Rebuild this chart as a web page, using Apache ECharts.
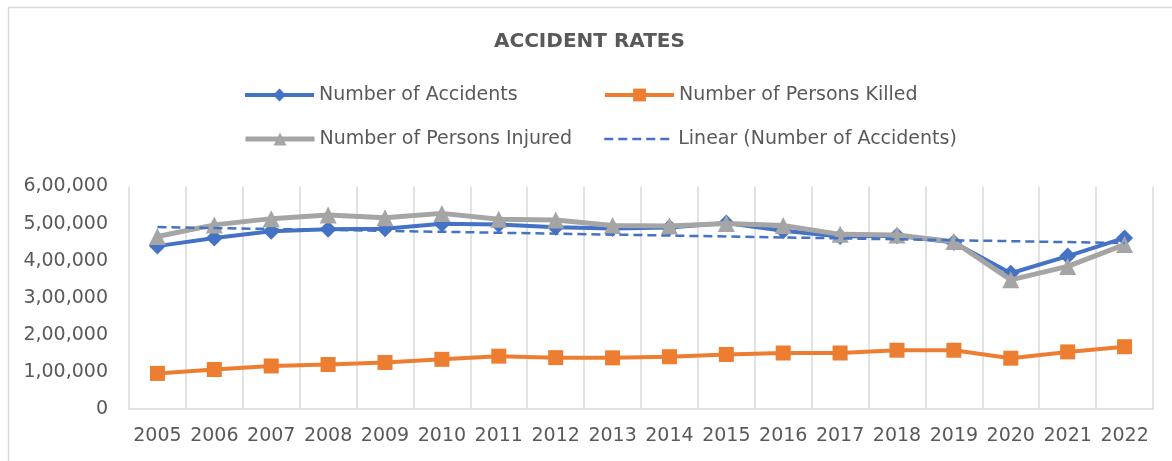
<!DOCTYPE html>
<html>
<head>
<meta charset="utf-8">
<script src="https://cdn.jsdelivr.net/npm/echarts@6/dist/echarts.min.js"></script>
<style>
  html, body { margin: 0; padding: 0; background: #ffffff; }
  #chart { width: 1172px; height: 461px; }
</style>
</head>
<body>
<div id="chart"></div>
<script>
var years = ['2005','2006','2007','2008','2009','2010','2011','2012','2013','2014','2015','2016','2017','2018','2019','2020','2021','2022'];
var accidents = [439255, 460920, 479216, 484704, 486384, 499628, 497686, 490383, 486476, 489400, 501423, 480652, 464910, 467044, 449002, 366138, 412432, 461312];
var killed = [96000, 106500, 116000, 120000, 125500, 134000, 142500, 138500, 138000, 141000, 147000, 151000, 151000, 158500, 158500, 137000, 154000, 168000];
var injured = [465282, 496481, 513340, 523193, 515458, 527512, 511394, 509667, 494893, 493474, 500279, 494624, 470975, 469418, 451361, 348279, 384448, 443366];
// linear trendline of accidents, endpoints
var trendFirst = 490500;
var trendLast = 447500;
var yTickLabels = ['0', '1,00,000', '2,00,000', '3,00,000', '4,00,000', '5,00,000', '6,00,000'];
var seriesNames = ['Number of Accidents', 'Number of Persons Killed', 'Number of Persons Injured', 'Linear (Number of Accidents)'];

var trend = years.map(function (y, i) {
  if (i === 0) return trendFirst;
  if (i === years.length - 1) return trendLast;
  return null;
});

var BLUE = '#4472C4', ORANGE = '#ED7D31', GREY = '#A5A5A5', TEXT = '#595959', LINE = '#D9D9D9';
var FONT = 'DejaVu Sans';

function legendAt(name, left, top, lineStyle, itemStyle) {
  return {
    data: [{ name: name }],
    left: left, top: top, padding: 0,
    orient: 'horizontal',
    itemWidth: 69, itemHeight: 16, itemGap: 0,
    selectedMode: false,
    textStyle: { color: TEXT, fontFamily: FONT, fontSize: 19, lineHeight: 22, padding: [0, 0, 0, 0] },
    lineStyle: lineStyle,
    itemStyle: itemStyle
  };
}

var chart = echarts.init(document.getElementById('chart'), null, { renderer: 'canvas' });
chart.setOption({
  animation: false,
  backgroundColor: '#ffffff',
  graphic: [{
    type: 'rect', silent: true, z: -10,
    shape: { x: 8.5, y: 7.5, width: 1400, height: 700 },
    style: { fill: 'none', stroke: LINE, lineWidth: 1.5 }
  }],
  title: {
    text: 'ACCIDENT RATES',
    left: 494, top: 31, padding: 0,
    textStyle: { color: TEXT, fontFamily: FONT, fontSize: 20, fontWeight: 'bold', lineHeight: 22 }
  },
  legend: [
    legendAt(seriesNames[0], 243, 84, { width: 4 }, {}),
    legendAt(seriesNames[1], 603, 84, { width: 4 }, {}),
    legendAt(seriesNames[2], 243, 128, { width: 5 }, {}),
    legendAt(seriesNames[3], 603, 128, { width: 2.5, type: [9, 5] }, { color: 'rgba(0,0,0,0)', borderWidth: 0, opacity: 0 })
  ],
  grid: { left: 129, right: 19, top: 186.5, bottom: 52, containLabel: false },
  xAxis: {
    type: 'category',
    data: years,
    boundaryGap: true,
    axisLine: { show: true, lineStyle: { color: LINE, width: 1.5 } },
    axisTick: { show: false },
    splitLine: { show: true, lineStyle: { color: LINE, width: 1.5 } },
    axisLabel: { color: TEXT, fontFamily: FONT, fontSize: 19, margin: 18, interval: 0 }
  },
  yAxis: {
    type: 'value',
    min: 0, max: 600000, interval: 100000,
    axisLine: { show: false },
    axisTick: { show: false },
    splitLine: { show: false },
    axisLabel: {
      color: TEXT, fontFamily: FONT, fontSize: 19, margin: 21,
      formatter: function (v) { return yTickLabels[Math.round(v / 100000)]; }
    }
  },
  series: [
    {
      name: seriesNames[0], type: 'line', data: accidents,
      symbol: 'diamond', symbolSize: [17, 17], showAllSymbol: true,
      lineStyle: { color: BLUE, width: 4, join: 'round' },
      itemStyle: { color: BLUE, borderWidth: 0 },
      z: 2
    },
    {
      name: seriesNames[1], type: 'line', data: killed,
      symbol: 'rect', symbolSize: 15, showAllSymbol: true,
      lineStyle: { color: ORANGE, width: 4, join: 'round' },
      itemStyle: { color: ORANGE, borderWidth: 0 },
      z: 3
    },
    {
      name: seriesNames[2], type: 'line', data: injured,
      symbol: 'triangle', symbolSize: 17, showAllSymbol: true,
      lineStyle: { color: GREY, width: 5, join: 'round' },
      itemStyle: { color: GREY, borderWidth: 0 },
      z: 4
    },
    {
      name: seriesNames[3], type: 'line', data: trend,
      connectNulls: true, symbol: 'none',
      lineStyle: { color: BLUE, width: 2.5, type: [9, 5] },
      itemStyle: { color: BLUE },
      z: 5
    }
  ]
});
</script>
</body>
</html>
